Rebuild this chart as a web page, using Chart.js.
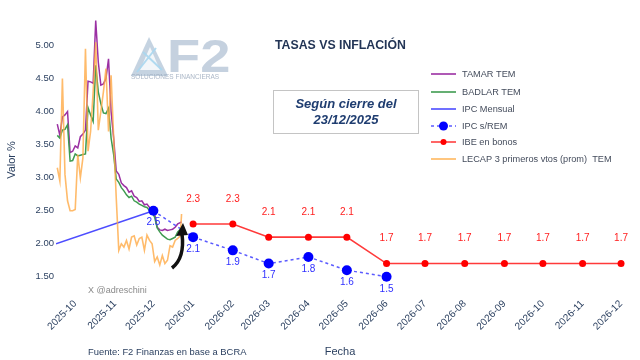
<!DOCTYPE html>
<html>
<head>
<meta charset="utf-8">
<script src="https://cdn.jsdelivr.net/npm/chart.js@4/dist/chart.umd.min.js"></script>
<style>
  body { margin: 0; background: #fff; }
  #wrap { width: 640px; height: 360px; }
</style>
</head>
<body>
<div id="wrap"><canvas id="tasasChart" width="640" height="360"></canvas></div>
<script>
// series diarias (TEM %)
const fechasDiarias = [
  '2025-09-17','2025-09-19','2025-09-21','2025-09-23','2025-09-25','2025-09-27','2025-09-29',
  '2025-10-01','2025-10-03','2025-10-05','2025-10-07','2025-10-09','2025-10-11','2025-10-13',
  '2025-10-15','2025-10-17','2025-10-19','2025-10-21','2025-10-23','2025-10-25','2025-10-27',
  '2025-10-29','2025-10-31','2025-11-02','2025-11-04','2025-11-06','2025-11-08','2025-11-10',
  '2025-11-12','2025-11-14','2025-11-16','2025-11-18','2025-11-20','2025-11-22','2025-11-24',
  '2025-11-26','2025-11-28','2025-11-30','2025-12-02','2025-12-04','2025-12-06','2025-12-08',
  '2025-12-10','2025-12-12','2025-12-14','2025-12-16','2025-12-18','2025-12-20','2025-12-22',
  '2025-12-23'
];
const tamar = [3.81,3.64,3.92,3.95,4.00,3.38,3.40,3.48,3.45,3.62,3.66,3.72,4.46,4.45,4.43,5.38,4.75,4.40,4.42,4.50,
  4.80,4.00,3.60,3.10,3.05,2.92,2.88,2.85,2.78,2.80,2.72,2.70,2.64,2.65,2.59,2.60,2.55,2.52,2.45,2.25,
  2.21,2.20,2.22,2.20,2.21,2.22,2.25,2.30,2.32,2.33];
const badlar = [3.64,3.60,3.72,3.73,3.80,3.25,3.26,3.36,3.33,3.34,3.35,3.36,4.06,3.95,3.85,4.70,4.30,4.12,3.98,3.97,
  4.05,3.60,3.35,2.98,2.93,2.85,2.80,2.74,2.70,2.72,2.65,2.63,2.60,2.58,2.56,2.55,2.50,2.48,2.40,2.24,
  2.18,2.13,2.10,2.07,2.06,2.08,2.10,2.18,2.22,2.24];
const lecap = [3.15,2.95,4.50,3.05,2.65,2.50,2.50,2.52,3.35,3.00,3.30,4.95,3.40,3.70,4.30,5.05,3.72,4.00,4.30,4.65,
  3.70,4.55,3.60,2.70,1.90,2.00,1.95,2.05,1.92,2.10,2.12,1.98,2.08,2.10,1.90,2.13,2.05,2.00,1.73,1.80,
  1.68,1.82,1.70,1.75,1.97,1.95,2.05,2.08,2.12,2.45];

// inflacion
const fechasIPC = ['2025-09-16','2025-12-01'];
const ipcMensual = [2.0, 2.5];
const fechasREM = ['2025-12-01','2026-01-01','2026-02-01','2026-03-01','2026-04-01','2026-05-01','2026-06-01'];
const ipcREM = [2.5, 2.1, 1.9, 1.7, 1.8, 1.6, 1.5];
const fechasIBE = ['2026-01-01','2026-02-01','2026-03-01','2026-04-01','2026-05-01','2026-06-01',
  '2026-07-01','2026-08-01','2026-09-01','2026-10-01','2026-11-01','2026-12-01'];
const ibe = [2.3, 2.3, 2.1, 2.1, 2.1, 1.7, 1.7, 1.7, 1.7, 1.7, 1.7, 1.7];

const mesesTicks = ['2025-10','2025-11','2025-12','2026-01','2026-02','2026-03','2026-04',
  '2026-05','2026-06','2026-07','2026-08','2026-09','2026-10','2026-11','2026-12'];
const yTicks = [1.5, 2.0, 2.5, 3.0, 3.5, 4.0, 4.5, 5.0];

const FONT = '"Liberation Sans", Arial, sans-serif';
const TXT = '#2a3f5f';

function toDay(s) {
  const p = s.split('-');
  return Date.UTC(+p[0], +p[1] - 1, p[2] ? +p[2] : 1) / 864e5;
}
function serie(fechas, vals) {
  return fechas.map((f, i) => ({ x: toDay(f), y: vals[i] }));
}
function dayToLabel(v) {
  const d = new Date(v * 864e5);
  return d.getUTCFullYear() + '-' + String(d.getUTCMonth() + 1).padStart(2, '0');
}

// textos, logo, leyenda y etiquetas
const extras = {
  id: 'extras',
  beforeDatasetsDraw(chart) {
    const c = chart.ctx;
    c.save();
    // logo marca de agua
    c.fillStyle = 'rgba(150,175,200,0.55)';
    c.beginPath(); c.moveTo(149, 37); c.lineTo(131, 76); c.lineTo(168, 76); c.closePath(); c.fill();
    c.fillStyle = 'rgba(255,255,255,0.8)';
    c.beginPath(); c.moveTo(150, 47); c.lineTo(140, 70); c.lineTo(160, 70); c.closePath(); c.fill();
    c.strokeStyle = 'rgba(170,215,240,0.9)'; c.lineWidth = 2;
    c.beginPath(); c.moveTo(143, 52); c.lineTo(162, 70); c.moveTo(156, 48); c.lineTo(137, 72); c.stroke();
    c.save();
    c.translate(167, 72);
    c.scale(1.18, 1);
    c.fillStyle = 'rgba(150,172,196,0.55)';
    c.font = 'bold 46px ' + FONT;
    c.textBaseline = 'alphabetic';
    c.fillText('F2', 0, 0);
    c.restore();
    c.font = '6.5px ' + FONT;
    c.fillStyle = 'rgba(150,165,185,0.8)';
    c.fillText('SOLUCIONES FINANCIERAS', 131, 79);
    c.restore();
  },
  afterDatasetsDraw(chart) {
    const c = chart.ctx;
    c.save();
    // etiquetas de valores
    c.font = '10px ' + FONT;
    c.textAlign = 'center';
    c.textBaseline = 'middle';
    chart.data.datasets.forEach((ds, di) => {
      if (!ds.etiqueta) return;
      const meta = chart.getDatasetMeta(di);
      meta.data.forEach((p, i) => {
        c.fillStyle = ds.etiqueta.color;
        c.fillText(ds.data[i].y.toFixed(1), p.x, p.y + ds.etiqueta.dy);
      });
    });

    // flecha
    c.strokeStyle = '#111'; c.fillStyle = '#111'; c.lineWidth = 3.5;
    c.beginPath(); c.moveTo(172, 268); c.quadraticCurveTo(185, 258, 182, 234); c.stroke();
    c.beginPath(); c.moveTo(176, 236); c.lineTo(188, 235); c.lineTo(183, 223); c.closePath(); c.fill();

    // titulo
    c.fillStyle = '#233556';
    c.textAlign = 'left';
    c.font = 'bold 12.3px ' + FONT;
    c.fillText('TASAS VS INFLACIÓN', 275, 46);

    // recuadro
    c.strokeStyle = '#c4c4c4'; c.lineWidth = 1;
    c.fillStyle = '#fff';
    c.fillRect(273.5, 90.5, 145, 43);
    c.strokeRect(273.5, 90.5, 145, 43);
    c.fillStyle = '#1f3d70';
    c.textAlign = 'center';
    c.font = 'italic bold 13px ' + FONT;
    c.fillText('Según cierre del', 346, 104);
    c.fillText('23/12/2025', 346, 120);

    // leyenda
    const filas = [
      { t: 'TAMAR TEM', col: '#9b30a3' },
      { t: 'BADLAR TEM', col: '#3f9b50' },
      { t: 'IPC Mensual', col: '#4d4dff' },
      { t: 'IPC s/REM', col: '#5b5bff', dash: true, dot: '#0000ff', r: 4.5 },
      { t: 'IBE en bonos', col: '#ff4040', dot: '#ff0000', r: 3 },
      { t: 'LECAP 3 primeros vtos (prom)  TEM', col: '#ffb860' }
    ];
    const ys = [74, 92, 109, 126, 142, 159];
    c.font = '9.2px ' + FONT;
    c.textAlign = 'left';
    filas.forEach((f, i) => {
      const y = ys[i];
      c.strokeStyle = f.col; c.lineWidth = 1.6;
      c.setLineDash(f.dash ? [3, 3] : []);
      c.beginPath(); c.moveTo(431, y); c.lineTo(456, y); c.stroke();
      c.setLineDash([]);
      if (f.dot) {
        c.fillStyle = f.dot;
        c.beginPath(); c.arc(443.5, y, f.r, 0, Math.PI * 2); c.fill();
      }
      c.fillStyle = '#444c5c';
      c.fillText(f.t, 462, y + 0.5);
    });

    // textos inferiores
    c.fillStyle = '#8a8a8a';
    c.font = '9px ' + FONT;
    c.fillText('X @adreschini', 88, 291);
    c.fillStyle = TXT;
    c.font = '9.4px ' + FONT;
    c.fillText('Fuente: F2 Finanzas en base a BCRA', 88, 352);
    c.font = '11px ' + FONT;
    c.textAlign = 'center';
    c.fillText('Fecha', 340, 352);
    c.translate(12, 160);
    c.rotate(-Math.PI / 2);
    c.font = '11px ' + FONT;
    c.fillText('Valor %', 0, 0);
    c.restore();
  }
};

const ctx = document.getElementById('tasasChart').getContext('2d');
const chart = new Chart(ctx, {
  type: 'line',
  data: {
    datasets: [
      {
        label: 'LECAP 3 primeros vtos (prom)  TEM',
        data: serie(fechasDiarias, lecap),
        borderColor: 'rgba(255,170,70,0.8)',
        borderWidth: 1.6,
        pointRadius: 0,
        order: 0
      },
      {
        label: 'IBE en bonos',
        data: serie(fechasIBE, ibe),
        borderColor: '#ff3a3a',
        borderWidth: 1.6,
        pointRadius: 3.5,
        pointBackgroundColor: '#ff0000',
        pointBorderWidth: 0,
        etiqueta: { color: '#ff2020', dy: -25 },
        order: 1
      },
      {
        label: 'IPC s/REM',
        data: serie(fechasREM, ipcREM),
        borderColor: '#5b5bff',
        borderDash: [3, 3],
        borderWidth: 1.5,
        pointRadius: 5,
        pointBackgroundColor: '#0000ff',
        pointBorderWidth: 0,
        etiqueta: { color: '#3030ff', dy: 12 },
        order: 2
      },
      {
        label: 'IPC Mensual',
        data: serie(fechasIPC, ipcMensual),
        borderColor: '#4d4dff',
        borderWidth: 1.5,
        pointRadius: 0,
        order: 3
      },
      {
        label: 'BADLAR TEM',
        data: serie(fechasDiarias, badlar),
        borderColor: '#3f9b50',
        borderWidth: 1.5,
        pointRadius: 0,
        order: 4
      },
      {
        label: 'TAMAR TEM',
        data: serie(fechasDiarias, tamar),
        borderColor: '#9b30a3',
        borderWidth: 1.5,
        pointRadius: 0,
        order: 5
      }
    ]
  },
  options: {
    responsive: false,
    animation: false,
    devicePixelRatio: 1,
    layout: { padding: { top: 12.5, right: 10, left: 0, bottom: 0 } },
    plugins: {
      legend: { display: false },
      tooltip: { enabled: false }
    },
    scales: {
      x: {
        type: 'linear',
        min: toDay('2025-09-16'),
        max: toDay('2026-12-08'),
        grid: { display: false, drawTicks: false },
        border: { display: false },
        afterBuildTicks: s => { s.ticks = mesesTicks.map(m => ({ value: toDay(m) })); },
        afterFit: s => { s.height = 70; },
        ticks: {
          autoSkip: false,
          minRotation: 45,
          maxRotation: 45,
          padding: 8,
          color: TXT,
          font: { family: FONT, size: 10 },
          callback: v => dayToLabel(v)
        }
      },
      y: {
        min: 1.3,
        max: 5.5,
        grid: { display: false, drawTicks: false },
        border: { display: false },
        afterBuildTicks: s => { s.ticks = yTicks.map(v => ({ value: v })); },
        afterFit: s => { s.width = 56; },
        ticks: {
          padding: 2,
          color: TXT,
          font: { family: FONT, size: 9.5 },
          callback: v => Number(v).toFixed(2)
        }
      }
    }
  },
  plugins: [extras]
});
</script>
</body>
</html>
